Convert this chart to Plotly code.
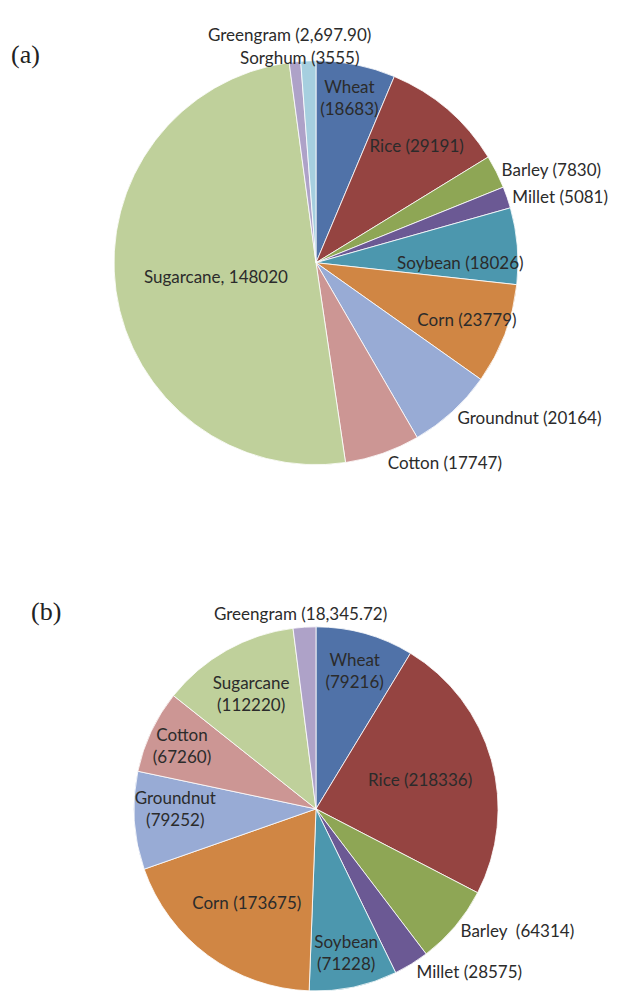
import plotly.graph_objects as go

# ---- data ----
crops_a = ["Wheat", "Rice", "Barley", "Millet", "Soybean", "Corn", "Groundnut",
           "Cotton", "Sugarcane", "Greengram", "Sorghum"]
values_a = [18683, 29191, 7830, 5081, 18026, 23779, 20164, 17747, 148020, 2697.90, 3555]
labels_a = ["Wheat<br>(18683)", "Rice (29191)", "Barley (7830)", "Millet (5081)",
            "Soybean (18026)", "Corn (23779)", "Groundnut (20164)", "Cotton (17747)",
            "Sugarcane, 148020", "Greengram (2,697.90)", "Sorghum (3555)"]
pos_a = ["inside", "inside", "outside", "outside", "inside", "inside", "outside",
         "outside", "inside", "none", "none"]

crops_b = ["Wheat", "Rice", "Barley", "Millet", "Soybean", "Corn", "Groundnut",
           "Cotton", "Sugarcane", "Greengram"]
values_b = [79216, 218336, 64314, 28575, 71228, 173675, 79252, 67260, 112220, 18345.72]
labels_b = ["Wheat<br>(79216)", "Rice (218336)", "Barley  (64314)", "Millet (28575)",
            "Soybean<br>(71228)", "Corn (173675)", "Groundnut<br>(79252)",
            "Cotton<br>(67260)", "Sugarcane<br>(112220)", "Greengram (18,345.72)"]
pos_b = ["inside", "inside", "outside", "outside", "inside", "inside", "inside",
         "inside", "inside", "none"]

colors = {
    "Wheat": "#5072a8", "Rice": "#954441", "Barley": "#8ea655", "Millet": "#6b5994",
    "Soybean": "#4c97ae", "Corn": "#d08644", "Groundnut": "#98abd5", "Cotton": "#cc9694",
    "Sugarcane": "#bfd09b", "Greengram": "#aea2c8", "Sorghum": "#a6cfdf",
}

FONT = "Lato"
FS = 17
TXT = "#2b2b2b"
OFF = 8          # page body margin offset
W, H = 617 - OFF, 996 - OFF


def px(x):
    return (x - OFF) / W


def py(y):
    return 1 - (y - OFF) / H


fig = go.Figure()
fig.add_trace(go.Pie(
    labels=crops_a, values=values_a, text=labels_a, textinfo="text",
    textposition=pos_a, insidetextorientation="horizontal",
    sort=False, direction="clockwise", rotation=0,
    marker=dict(colors=[colors[c] for c in crops_a], line=dict(color="white", width=0.8)),
    textfont=dict(family=FONT, size=FS, color=TXT),
    domain=dict(x=[px(112), px(522)], y=[py(467), py(61)]),
    showlegend=False, hoverinfo="label+value",
))
fig.add_trace(go.Pie(
    labels=crops_b, values=values_b, text=labels_b, textinfo="text",
    textposition=pos_b, insidetextorientation="horizontal",
    sort=False, direction="clockwise", rotation=0,
    marker=dict(colors=[colors[c] for c in crops_b], line=dict(color="white", width=0.8)),
    textfont=dict(family=FONT, size=FS, color=TXT),
    domain=dict(x=[px(132), px(502)], y=[0, py(630)]),
    showlegend=False, hoverinfo="label+value",
))

# small top slices: labels placed above the pies
fig.add_annotation(text=labels_a[9], x=px(290), y=py(22), xref="paper", yref="paper",
                   showarrow=False, font=dict(family=FONT, size=FS, color=TXT))
fig.add_annotation(text=labels_a[10], x=px(300), y=py(45), xref="paper", yref="paper",
                   showarrow=False, font=dict(family=FONT, size=FS, color=TXT))
fig.add_annotation(text=labels_b[9], x=px(301), y=py(617), xref="paper", yref="paper",
                   showarrow=False, font=dict(family=FONT, size=FS, color=TXT))

fig.add_annotation(text="(a)", x=px(9), y=py(55), xref="paper", yref="paper",
                   xanchor="left", yanchor="middle", showarrow=False,
                   font=dict(family="Liberation Serif", size=26, color="#222"))
fig.add_annotation(text="(b)", x=px(29), y=py(615), xref="paper", yref="paper",
                   xanchor="left", yanchor="middle", showarrow=False,
                   font=dict(family="Liberation Serif", size=26, color="#222"))

fig.update_layout(
    width=W, height=H, margin=dict(l=0, r=0, t=0, b=0),
    paper_bgcolor="white", plot_bgcolor="white",
    uniformtext=dict(minsize=FS, mode="show"),
)
fig.write_html("out.html")
